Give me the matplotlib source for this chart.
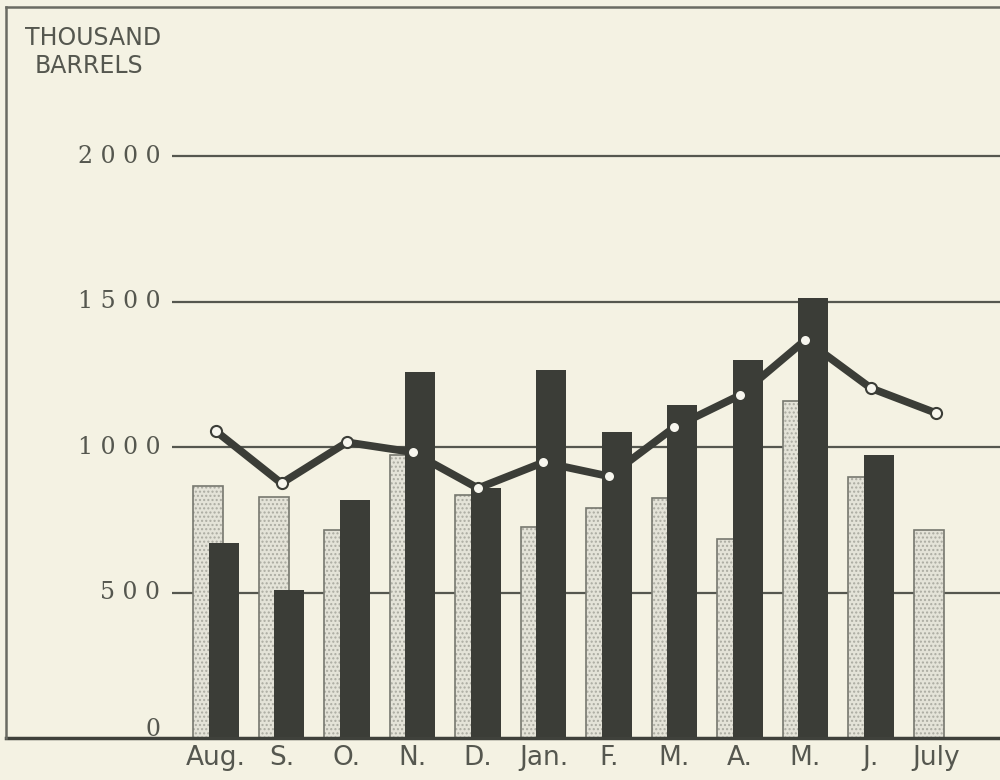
import matplotlib.pyplot as plt
from matplotlib.lines import Line2D
import numpy as np

months = ["Aug.", "S.", "O.", "N.", "D.", "Jan.", "F.", "M.", "A.", "M.", "J.", "July"]
light_vals = [865, 828, 714, 972, 834, 724, 790, 824, 686, 1159, 897, 714]
dark_vals = [672, 510, 817, 1259, 859, 1266, 1052, 1145, 1300, 1514, 972, None]
line_vals = [1055, 876, 1017, 983, 859, 948, 900, 1069, 1179, 1369, 1203, 1117]
y_ticks = [0, 500, 1000, 1500, 2000]
y_labels = ["0", "5 0 0", "1 0 0 0", "1 5 0 0", "2 0 0 0"]

bg = "#f4f2e3"
dark = "#3b3d37"
ink = "#55574f"

fig = plt.figure(figsize=(10, 7.8), dpi=100, facecolor=bg)
ax = fig.add_axes([0.172, (780 - 738) / 780, 1 - 0.172, (738 - 7) / 780])
ax.set_facecolor(bg)

x = np.arange(len(months))
w = 0.46

# stippled light bars (drawn behind)
lx = [xi - 0.12 for xi in x]
ax.bar(lx, light_vals, width=w, color="#e4e3d8", hatch="....",
       edgecolor="#abab a1".replace(" ", ""), linewidth=0, zorder=2)
ax.bar(lx, light_vals, width=w, fill=False, edgecolor="#77786f",
       linewidth=1.2, zorder=2.1)

# solid dark bars
dx = [xi + 0.12 for xi, v in zip(x, dark_vals) if v is not None]
dv = [v for v in dark_vals if v is not None]
ax.bar(dx, dv, width=w, color=dark, edgecolor=dark, linewidth=0, zorder=3)

# line with open markers
ax.plot(x, line_vals, color=dark, linewidth=5.5, zorder=4, solid_joinstyle="round")
ax.plot(x, line_vals, linestyle="none", marker="o", markersize=8,
        markerfacecolor="#f7f6ee", markeredgecolor=dark, markeredgewidth=1.5, zorder=5)

# gridlines
for t in y_ticks[1:]:
    ax.axhline(t, color="#55574f", linewidth=1.6, zorder=1)

ax.set_xlim(-0.672, 11.97)
ax.set_ylim(0, 2514)
for s in ["left", "right", "top", "bottom"]:
    ax.spines[s].set_visible(False)
ax.set_xticks(x)
ax.set_xticklabels(months, fontsize=19, color=ink, family=["Liberation Sans Narrow", "DejaVu Sans"])
ax.tick_params(axis="x", length=0, pad=5)
ax.set_yticks([])

for t, lab in zip(y_ticks, y_labels):
    yy = t + 30 if t == 0 else t
    ax.text(-0.85, yy, lab, ha="right", va="center", fontsize=17, color=ink,
            family=["DejaVu Serif"])

fig.text(0.025, 0.951, "THOUSAND", fontsize=17, color=ink, ha="left", va="center",
         family=["Liberation Sans Narrow", "DejaVu Sans"])
fig.text(0.035, 0.915, "BARRELS", fontsize=17, color=ink, ha="left", va="center",
         family=["Liberation Sans Narrow", "DejaVu Sans"])

# outer frame
yb = (780 - 738) / 780
yt = (780 - 7) / 780
fig.add_artist(Line2D([0.006, 1.0], [yb, yb], color="#3f413b", linewidth=2.5))
fig.add_artist(Line2D([0.006, 1.0], [yt, yt], color="#6a6b63", linewidth=1.8))
fig.add_artist(Line2D([0.006, 0.006], [yb, yt], color="#6a6b63", linewidth=1.8))

fig.savefig("out.png", dpi=100, facecolor=bg)
